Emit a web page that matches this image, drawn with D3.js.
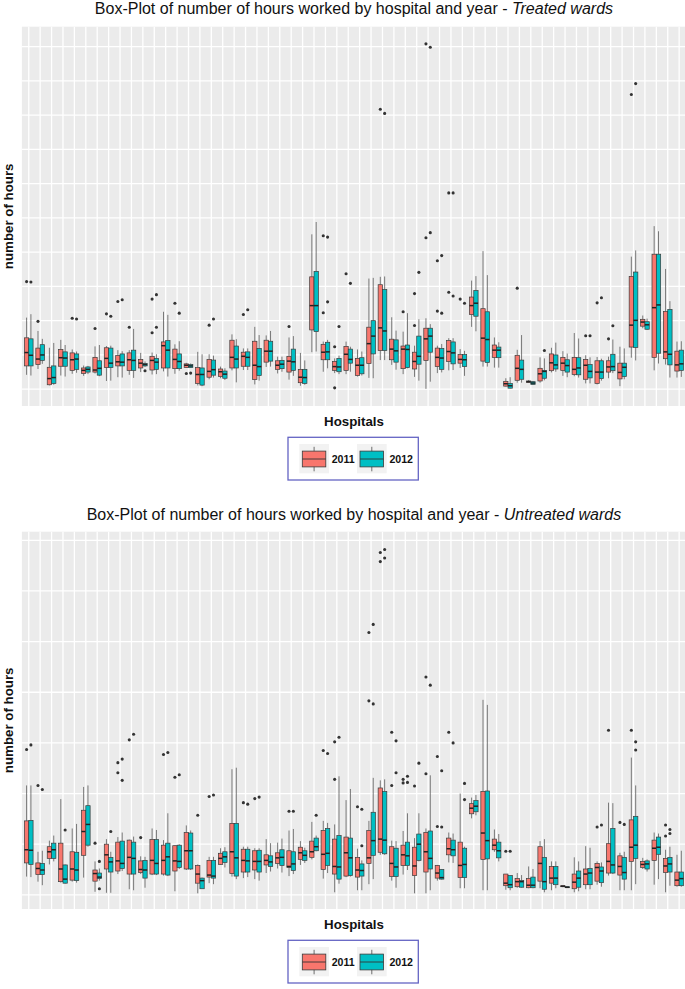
<!DOCTYPE html>
<html><head><meta charset="utf-8">
<script src="https://cdn.jsdelivr.net/npm/d3@7"></script>
<style>
body{margin:0;background:#fff}
svg{display:block}
text{font-family:"Liberation Sans",Arial,Helvetica,sans-serif}
</style></head>
<body><svg id="c" width="685" height="989"></svg>
<script>
const hospitals = ["H01","H02","H03","H04","H05","H06","H07","H08","H09","H10","H11","H12","H13","H14","H15","H16","H17","H18","H19","H20","H21","H22","H23","H24","H25","H26","H27","H28","H29","H30","H31","H32","H33","H34","H35","H36","H37","H38","H39","H40","H41","H42","H43","H44","H45","H46","H47","H48","H49","H50","H51","H52","H53","H54","H55","H56","H57","H58"];
const years = ["2011","2012"];

// ---------- Treated wards ----------
const treated2011Hi  = [209,170,121,144,116,69,125,126,114,114,106,107,226,131,77,109,102,66,160,119,182,157,95,151,106,452,139,90,139,116,323,328,210,168,127,207,127,149,117,317,403,151,32,115,27,93,121,111,164,99,94,95,124,387,215,476,351,139];
const treated2011Q3  = [150,120,64,116,106,62,93,121,98,106,87,96,138,117,74,63,87,59,143,108,140,143,83,96,58,328,131,81,125,90,181,305,146,126,108,178,120,142,101,269,235,129,23,99,24,61,103,93,93,87,83,83,76,329,204,394,227,111];
const treated2011Med = [107,88,31,92,86,55,56,90,80,86,76,84,127,87,70,43,52,51,93,96,70,111,70,82,35,244,108,66,102,70,133,179,117,117,81,147,93,110,87,244,149,114,16,61,22,45,77,76,58,70,50,65,49,187,196,238,109,71];
const treated2011Q1  = [68,72,13,67,55,46,50,63,68,55,62,56,62,60,63,17,35,37,62,67,28,79,58,50,19,173,86,55,55,40,75,113,86,60,59,84,66,81,76,218,82,93,9,26,20,24,54,55,43,29,17,50,30,123,184,93,89,53];
const treated2011Lo  = [42,59,11,40,45,39,46,24,35,42,50,43,52,45,62,11,29,32,55,56,14,65,46,28,10,108,51,47,44,37,33,85,71,44,36,1,47,55,62,182,66,63,8,19,19,19,49,39,38,17,14,32,9,92,178,55,72,34];
const treated2011Outliers = [["H01",314],["H02",198],["H05",207],["H07",177],["H08",220],["H09",256],["H10",181],["H12",165],["H12",263],["H14",251],["H15",46],["H17",187],["H20",218],["H24",183],["H27",448],["H27",223],["H28",124],["H28",4],["H29",337],["H32",817],["H34",226],["H35",186],["H35",279],["H36",1008],["H36",442],["H37",375],["H37",228],["H38",573],["H38",283],["H39",263],["H44",295],["H50",156],["H51",252],["H52",147],["H54",860]];

const treated2012Hi  = [219,147,135,129,110,68,129,127,111,176,81,102,217,140,75,102,98,61,146,119,158,170,95,155,84,488,144,98,124,110,325,329,171,222,204,190,132,149,112,330,333,137,35,158,24,90,136,104,148,93,89,145,119,405,206,461,257,140];
const treated2012Q3  = [147,130,68,109,103,65,83,120,103,114,75,90,142,103,72,62,85,53,126,109,119,140,84,117,58,344,137,90,117,92,200,291,144,129,155,178,119,138,101,288,226,123,17,85,22,55,100,86,92,72,83,102,76,342,197,394,233,114];
const treated2012Med = [99,100,34,91,88,58,61,76,79,84,72,79,114,81,68,43,57,44,88,93,66,111,73,80,34,244,109,65,87,70,155,170,112,116,96,155,91,106,86,251,145,114,10,58,18,52,71,69,62,52,50,66,64,201,188,246,102,74];
const treated2012Q1  = [68,84,17,67,58,50,41,63,68,55,68,58,62,60,63,12,41,32,62,67,40,82,60,55,17,168,86,51,76,45,103,113,79,63,73,108,58,74,66,213,78,92,3,29,14,32,59,50,42,33,31,54,37,122,175,105,71,55];
const treated2012Lo  = [40,74,13,37,48,44,38,25,34,33,65,44,37,54,62,9,34,27,20,56,25,66,51,39,13,110,61,44,51,40,32,85,57,61,25,22,49,56,39,169,66,63,2,19,13,26,51,35,34,17,25,47,29,84,173,75,34,36];
const treated2012Outliers = [["H01",313],["H05",205],["H08",213],["H09",261],["H11",54],["H12",181],["H12",276],["H14",222],["H15",47],["H17",205],["H20",232],["H27",444],["H27",255],["H28",183],["H29",309],["H32",805],["H35",341],["H36",998],["H36",457],["H37",390],["H37",222],["H38",573],["H38",272],["H39",251],["H46",113],["H50",156],["H51",267],["H52",185],["H54",892]];

// ---------- Untreated wards ----------
const untreated2011Hi  = [216,85,107,189,131,213,66,110,114,109,76,131,108,98,137,60,75,92,248,95,92,110,103,127,106,144,146,139,187,91,146,226,107,126,112,131,59,123,200,192,385,129,41,43,56,106,66,18,74,96,66,182,83,271,73,123,89,79];
const untreated2011Q3  = [146,63,95,102,85,167,49,100,104,108,67,109,98,97,123,58,68,82,141,90,87,79,83,87,94,106,127,110,114,74,127,211,95,98,94,123,58,112,104,180,204,110,41,32,32,95,56,18,41,51,62,101,77,148,66,108,72,45];
const untreated2011Med = [89,52,85,51,51,125,42,79,67,74,50,68,68,67,87,41,39,72,85,68,66,68,73,56,83,85,80,56,83,49,73,110,62,79,57,85,43,91,58,171,122,98,23,26,19,62,33,17,25,41,54,66,56,94,60,92,57,29];
const untreated2011Q1  = [63,40,72,26,29,78,27,51,47,41,44,41,41,47,51,23,35,60,42,45,49,59,62,54,70,74,50,41,37,35,62,84,36,58,38,45,33,79,34,160,70,89,18,16,14,27,23,16,12,20,27,43,39,66,54,68,44,18];
const untreated2011Lo  = [36,26,60,24,26,34,6,4,41,11,41,39,38,7,49,3,23,59,36,33,31,43,52,37,59,70,32,5,35,9,21,79,28,40,3,3,28,64,13,151,9,85,10,14,13,13,9,15,5,11,20,38,9,9,51,20,5,16];
const untreated2011Outliers = [["H01",287],["H02",216],["H07",102],["H09",241],["H09",261],["H10",306],["H11",113],["H13",277],["H14",232],["H16",157],["H17",194],["H20",182],["H21",190],["H24",165],["H27",285],["H28",302],["H28",228],["H30",174],["H31",518],["H31",383],["H32",676],["H32",658],["H33",321],["H33",216],["H34",228],["H34",221],["H35",215],["H36",430],["H36",239],["H37",273],["H37",135],["H38",321],["H43",86],["H51",134],["H52",325],["H53",143],["H54",325],["H57",138],["H57",116]];

const untreated2012Hi  = [216,87,117,60,140,216,52,85,123,115,75,128,161,100,127,34,75,94,251,95,92,102,111,130,93,117,142,234,209,68,231,228,106,161,161,236,51,121,95,197,375,120,38,39,51,110,66,16,66,93,64,181,85,216,70,121,95,87];
const untreated2012Q3  = [147,62,102,59,84,176,43,74,106,104,68,109,102,98,122,33,68,85,141,90,88,77,89,85,87,112,131,117,112,61,163,204,92,104,120,126,50,108,92,186,205,104,38,28,35,74,56,16,47,52,55,131,74,155,67,114,74,45];
const untreated2012Med = [88,49,89,31,49,139,35,65,62,72,49,62,75,66,87,28,37,75,73,67,66,65,74,61,78,95,82,55,73,48,107,108,55,77,100,72,34,89,60,175,107,87,20,26,19,26,33,15,33,43,47,59,44,98,61,94,61,32];
const untreated2012Q1  = [60,40,72,23,28,98,32,45,52,41,33,41,39,54,51,12,33,64,37,45,45,56,58,48,68,87,58,31,38,37,78,81,36,58,68,51,31,77,34,164,71,73,14,15,14,11,20,14,15,20,24,43,31,72,51,80,45,18];
const untreated2012Lo  = [35,19,66,22,24,95,28,4,47,9,14,39,37,51,49,12,21,54,31,35,28,46,44,41,63,86,43,22,36,9,31,79,14,49,66,9,30,63,13,157,9,66,9,14,13,5,13,14,7,11,16,41,9,21,46,31,18,16];
const untreated2012Outliers = [["H01",296],["H02",208],["H04",128],["H07",66],["H07",12],["H08",125],["H09",226],["H09",268],["H10",317],["H13",281],["H14",237],["H17",197],["H20",179],["H21",193],["H24",165],["H26",157],["H27",279],["H28",311],["H30",169],["H30",97],["H31",534],["H31",377],["H32",682],["H32",665],["H33",304],["H33",241],["H34",234],["H34",222],["H35",260],["H36",414],["H37",245],["H37",134],["H38",300],["H39",220],["H39",188],["H43",86],["H51",138],["H53",139],["H54",302],["H54",286],["H57",129],["H57",121]];

const treatedGrid   = [0,100,200,300,400,500,600,700,800,900,1000];
const untreatedGrid = [0,100,200,300,400,500,600,700];
const yearColors = ["#F8766D","#00BFC4"];

const svg = d3.select("#c");
const PL = 21.9, PR = 686;

function drawPanel(cfg){
  const x = d3.scalePoint().domain(hospitals).range([PL, PR]).padding(0.6);
  const step = x.step();
  const xYear = d3.scaleBand().domain(years).range([-0.38*step, 0.38*step]);
  const bw = xYear.bandwidth();
  const y = d3.scaleLinear().domain(cfg.domain).range([cfg.bottom, cfg.top]);
  const g = svg.append("g");

  g.append("rect").attr("x",PL).attr("y",cfg.top).attr("width",PR-PL).attr("height",cfg.bottom-cfg.top).attr("fill","#EBEBEB");
  g.selectAll("line.hg").data(cfg.grid).join("line").attr("class","hg")
    .attr("x1",PL).attr("x2",PR).attr("y1",d=>y(d)).attr("y2",d=>y(d))
    .attr("stroke","#fff").attr("stroke-width",1.3);
  g.selectAll("line.vg").data(hospitals).join("line").attr("class","vg")
    .attr("x1",d=>x(d)).attr("x2",d=>x(d)).attr("y1",cfg.top).attr("y2",cfg.bottom)
    .attr("stroke","#fff").attr("stroke-width",1.3);

  cfg.series.forEach((s,si)=>{
    const rows = hospitals.map((h,i)=>({h, hi:s.hi[i], q3:s.q3[i], med:s.med[i], q1:s.q1[i], lo:s.lo[i]}));
    const cx = d => x(d.h) + xYear(s.year) + bw/2;
    const gs = g.append("g");
    gs.selectAll("line.wu").data(rows).join("line").attr("class","wu")
      .attr("x1",cx).attr("x2",cx).attr("y1",d=>y(d.hi)).attr("y2",d=>y(d.q3))
      .attr("stroke","#5a5a5a").attr("stroke-width",0.8);
    gs.selectAll("line.wl").data(rows).join("line").attr("class","wl")
      .attr("x1",cx).attr("x2",cx).attr("y1",d=>y(d.q1)).attr("y2",d=>y(d.lo))
      .attr("stroke","#5a5a5a").attr("stroke-width",0.8);
    gs.selectAll("rect.bx").data(rows).join("rect").attr("class","bx")
      .attr("x",d=>cx(d)-bw/2).attr("width",bw)
      .attr("y",d=>y(d.q3)).attr("height",d=>Math.max(0.5,y(d.q1)-y(d.q3)))
      .attr("fill",s.color).attr("stroke","#3a3a3a").attr("stroke-width",0.7);
    gs.selectAll("line.md").data(rows).join("line").attr("class","md")
      .attr("x1",d=>cx(d)-bw/2).attr("x2",d=>cx(d)+bw/2).attr("y1",d=>y(d.med)).attr("y2",d=>y(d.med))
      .attr("stroke","#222").attr("stroke-width",1.5);
    gs.selectAll("circle.out").data(s.out).join("circle").attr("class","out")
      .attr("cx",d=>x(d[0]) + xYear(s.year) + bw/2).attr("cy",d=>y(d[1])).attr("r",1.55)
      .attr("fill","#333");
  });

  // title
  const t = svg.append("text").attr("x",(PL+PR)/2).attr("y",cfg.titleY)
    .attr("text-anchor","middle").attr("font-size",16).attr("fill","#111");
  t.append("tspan").text("Box-Plot of number of hours worked by hospital and year - ");
  t.append("tspan").attr("font-style","italic").text(cfg.italic);

  // y label
  svg.append("text").attr("transform",`translate(13.3,${(cfg.top+cfg.bottom)/2}) rotate(-90)`)
    .attr("text-anchor","middle").attr("font-size",13.3).attr("font-weight","bold").attr("fill","#111")
    .text("number of hours");
  // x label
  svg.append("text").attr("x",354).attr("y",cfg.bottom+19.5).attr("text-anchor","middle")
    .attr("font-size",13.3).attr("font-weight","bold").attr("fill","#111").text("Hospitals");

  // legend
  const lt = cfg.bottom + 31.3;
  const lg = svg.append("g");
  lg.append("rect").attr("x",288).attr("y",lt).attr("width",130.3).attr("height",42.7)
    .attr("fill","#fff").attr("stroke","#6464c4").attr("stroke-width",1.3);
  years.forEach((yr,k)=>{
    const bx = 299.3 + k*57.7;
    lg.append("rect").attr("x",bx).attr("y",lt+6.7).attr("width",29.7).attr("height",29.3).attr("fill","#F2F2F2");
    lg.append("line").attr("x1",bx+14.8).attr("x2",bx+14.8).attr("y1",lt+9.5).attr("y2",lt+34)
      .attr("stroke","#4d4d4d").attr("stroke-width",0.8);
    lg.append("rect").attr("x",bx+3).attr("y",lt+13.8).attr("width",23.5).attr("height",15.8)
      .attr("fill",yearColors[k]).attr("stroke","#3a3a3a").attr("stroke-width",0.8);
    lg.append("line").attr("x1",bx+3).attr("x2",bx+26.5).attr("y1",lt+21.7).attr("y2",lt+21.7)
      .attr("stroke","#333").attr("stroke-width",0.9);
    lg.append("text").attr("x",bx+32.4).attr("y",lt+25.8).attr("font-size",10.6).attr("font-weight","bold")
      .attr("fill","#111").text(yr);
  });
}

drawPanel({
  top:26.7, bottom:406, domain:[-49,1058], grid:treatedGrid, titleY:13.5, italic:"Treated wards",
  series:[
    {year:"2011", color:yearColors[0], hi:treated2011Hi, q3:treated2011Q3, med:treated2011Med, q1:treated2011Q1, lo:treated2011Lo, out:treated2011Outliers},
    {year:"2012", color:yearColors[1], hi:treated2012Hi, q3:treated2012Q3, med:treated2012Med, q1:treated2012Q1, lo:treated2012Lo, out:treated2012Outliers}
  ]
});
drawPanel({
  top:531.7, bottom:909, domain:[-28,717], grid:untreatedGrid, titleY:520, italic:"Untreated wards",
  series:[
    {year:"2011", color:yearColors[0], hi:untreated2011Hi, q3:untreated2011Q3, med:untreated2011Med, q1:untreated2011Q1, lo:untreated2011Lo, out:untreated2011Outliers},
    {year:"2012", color:yearColors[1], hi:untreated2012Hi, q3:untreated2012Q3, med:untreated2012Med, q1:untreated2012Q1, lo:untreated2012Lo, out:untreated2012Outliers}
  ]
});
</script></body></html>
